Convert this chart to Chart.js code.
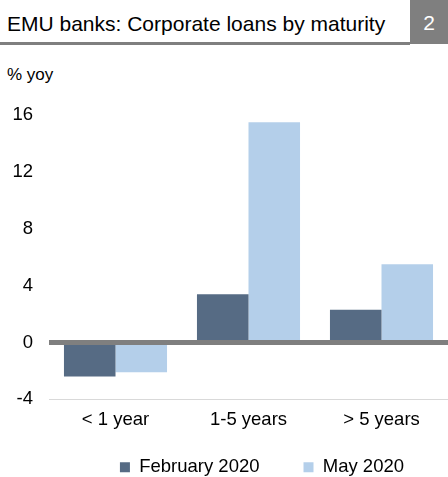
<!DOCTYPE html>
<html>
<head>
<meta charset="utf-8">
<script src="https://cdn.jsdelivr.net/npm/chart.js@4"></script>
<style>
  body { margin: 0; background: #fff; font-family: "Liberation Sans", Arial, sans-serif; }
  #wrap { position: relative; width: 448px; height: 477px; overflow: hidden; }
  #title { position: absolute; left: 7px; top: 12px; font-size: 21px; color: #000; white-space: nowrap; }
  #rule { position: absolute; left: 0; top: 41.5px; width: 410px; height: 3px; background: #7f7f7f; }
  #num { position: absolute; left: 410px; top: 0; width: 38px; height: 44px; background: #7f7f7f;
         color: #fff; font-size: 21px; text-align: center; line-height: 46px; }
  #unit { position: absolute; left: 7px; top: 65px; font-size: 17px; }
  #box { position: absolute; left: 0; top: 88px; width: 448px; height: 426px; }
</style>
</head>
<body>
<div id="wrap">
  <div id="title">EMU banks: Corporate loans by maturity</div>
  <div id="rule"></div>
  <div id="num">2</div>
  <div id="unit">% yoy</div>
  <div id="box"><canvas id="chart"></canvas></div>
</div>
<script>
var categories = ['< 1 year', '1-5 years', '> 5 years'];
var febValues = [-2.4, 3.4, 2.3];
var mayValues = [-2.1, 15.5, 5.5];
var seriesNames = ['February 2020', 'May 2020'];
var yTicks = [-4, 0, 4, 8, 12, 16];

var labelFont = { family: 'Liberation Sans', size: 18.5 };

// thick grey zero line drawn over the bars
var zeroLine = {
    id: 'zeroLine',
    afterDatasetsDraw: function(chart) {
        var ctx = chart.ctx;
        var y = chart.scales.y.getPixelForValue(0);
        ctx.save();
        ctx.strokeStyle = '#7f7f7f';
        ctx.lineWidth = 5;
        ctx.beginPath();
        ctx.moveTo(chart.chartArea.left, y);
        ctx.lineTo(chart.chartArea.right, y);
        ctx.stroke();
        ctx.restore();
    }
};

// legend padding is big for the wide item gap, so pull it up a bit
var legendShift = {
    id: 'legendShift',
    afterLayout: function(chart) {
        chart.legend.top -= 27.5;
        chart.legend.bottom -= 27.5;
    }
};

var ctx = document.getElementById('chart').getContext('2d');
new Chart(ctx, {
    type: 'bar',
    data: {
        labels: categories,
        datasets: [{
            label: seriesNames[0],
            data: febValues,
            backgroundColor: '#566b84'
        }, {
            label: seriesNames[1],
            data: mayValues,
            backgroundColor: '#b4cfea'
        }]
    },
    options: {
        responsive: true,
        maintainAspectRatio: false,
        animation: false,
        layout: { padding: { left: 0, right: 0, top: 12, bottom: 0 } },
        datasets: {
            bar: { categoryPercentage: 0.775, barPercentage: 1 }
        },
        scales: {
            x: {
                grid: { display: false, drawTicks: false },
                border: { display: true, color: '#d9d9d9', width: 1 },
                ticks: { color: '#000', font: labelFont, padding: 10 }
            },
            y: {
                min: -4,
                max: 16,
                afterBuildTicks: function(axis) {
                    axis.ticks = yTicks.map(function(v) { return { value: v }; });
                },
                grid: { display: false, drawTicks: false },
                border: { display: false },
                ticks: { color: '#000', font: labelFont, padding: 16 },
                afterFit: function(scale) { scale.width = 49; }
            }
        },
        plugins: {
            legend: {
                position: 'bottom',
                align: 'end',
                labels: {
                    color: '#000',
                    font: labelFont,
                    boxWidth: 10,
                    boxHeight: 10,
                    padding: 44
                }
            },
            tooltip: { enabled: false }
        }
    },
    plugins: [zeroLine, legendShift]
});
</script>
</body>
</html>
